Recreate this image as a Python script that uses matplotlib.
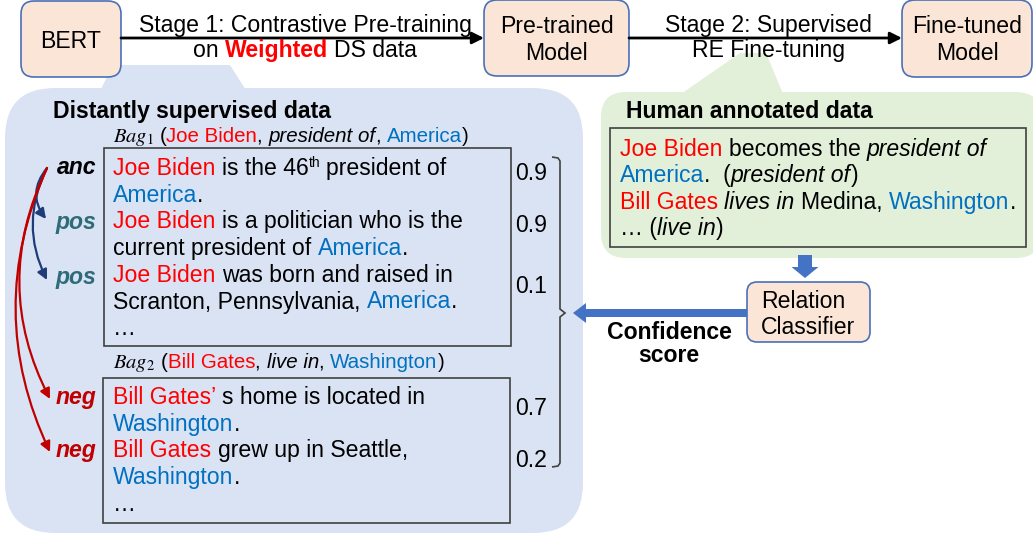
import matplotlib
matplotlib.use("Agg")
import matplotlib.pyplot as plt
from matplotlib.patches import FancyBboxPatch, Polygon, FancyArrow, FancyArrowPatch, Rectangle, PathPatch
from matplotlib.path import Path

plt.rcParams['font.family'] = ['Liberation Sans', 'DejaVu Sans']
plt.rcParams['mathtext.fontset'] = 'stix'

# ---- content ----
pipeline_boxes = ["BERT", "Pre-trained\nModel", "Fine-tuned\nModel"]
stage1_lines = [[("Stage 1: Contrastive Pre-training", "k")],
                [("on ", "k"), ("Weighted", "bold_red"), (" DS data", "k")]]
stage2_lines = [[("Stage 2: Supervised", "k")],
                [("RE Fine-tuning", "k")]]

ds_title = "Distantly supervised data"
bag1_name = r"$Bag_1$"
bag1_header = [("(", "k"), ("Joe Biden", "head"), (", ", "k"), ("president of", "ital"),
               (", ", "k"), ("America", "tail"), (")", "k")]
bag1_lines = [
    [("Joe Biden", "head"), (" is the 46", "k"), ("th", "sup"), (" president of", "k")],
    [("America", "tail"), (".", "k")],
    [("Joe Biden", "head"), (" is a politician who is the", "k")],
    [("current president of ", "k"), ("America", "tail"), (".", "k")],
    [("Joe Biden", "head"), (" was born and raised in", "k")],
    [("Scranton, Pennsylvania, ", "k"), ("America", "tail"), (".", "k")],
    [("\u2026", "k")],
]
bag2_name = r"$Bag_2$"
bag2_header = [("(", "k"), ("Bill Gates", "head"), (", ", "k"), ("live in", "ital"),
               (", ", "k"), ("Washington", "tail"), (")", "k")]
bag2_lines = [
    [("Bill Gates\u2019", "head"), (" s home is located in", "k")],
    [("Washington", "tail"), (".", "k")],
    [("Bill Gates", "head"), (" grew up in Seattle,", "k")],
    [("Washington", "tail"), (".", "k")],
    [("\u2026", "k")],
]
human_title = "Human annotated data"
human_lines = [
    [("Joe Biden", "head"), (" becomes the ", "k"), ("president of", "ital")],
    [("America", "tail"), (".  (", "k"), ("president of", "ital"), (")", "k")],
    [("Bill Gates", "head"), (" ", "k"), ("lives in", "ital"), (" Medina, ", "k"),
     ("Washington", "tail"), (".", "k")],
    [("\u2026 (", "k"), ("live in", "ital"), (")", "k")],
]
roles = ["anc", "pos", "pos", "neg", "neg"]
confidence = [0.9, 0.9, 0.1, 0.7, 0.2]
classifier_label = ["Relation", "Classifier"]
score_label = ["Confidence", "score"]

# ---- style ----
FS = 16.6
FS_BAG = 14.8
RED = "#FF0000"
BLUE = "#0070C0"
PEACH = "#FBE5D6"
EDGE = "#4A70B8"
ARROW_BLUE = "#4472C4"
STYLES = {
    "k": dict(color="black"),
    "head": dict(color=RED),
    "tail": dict(color=BLUE),
    "ital": dict(color="black", fontstyle="italic"),
    "bold_red": dict(color=RED, fontweight="bold"),
}
ROLE_COLORS = {"anc": "black", "pos": "#2E6B78", "neg": "#C00000"}

fig = plt.figure(figsize=(10.33, 5.35), dpi=100)
ax = fig.add_axes([0, 0, 1, 1])
ax.set_xlim(0, 1033)
ax.set_ylim(535, 0)
ax.axis("off")
renderer = fig.canvas.get_renderer()


def text_width(s, size, **kw):
    t = ax.text(0, 0, "|" + s + "|", fontsize=size, **kw)
    w = t.get_window_extent(renderer).width
    t.set_text("||")
    w -= t.get_window_extent(renderer).width
    t.remove()
    return w


def rich_width(segs, size):
    total = 0
    for s, k in segs:
        if k == "sup":
            total += text_width(s, size * 0.6)
        else:
            total += text_width(s, size, **STYLES[k])
    return total


def rich_line(x, y, segs, size, ha="left"):
    if ha == "center":
        x -= rich_width(segs, size) / 2
    for s, k in segs:
        if k == "sup":
            ax.text(x, y - 8, s, fontsize=size * 0.6, va="baseline", zorder=5)
            x += text_width(s, size * 0.6)
            continue
        st = STYLES[k]
        body = s.lstrip(" ")
        lead = s[:len(s) - len(body)]
        xd = x + (text_width(lead, size, **st) if lead else 0)
        if body:
            ax.text(xd, y, body, fontsize=size, va="baseline", ha="left", zorder=5, **st)
        x += text_width(s, size, **st)
    return x


# ---- callout backgrounds ----
ax.add_patch(FancyBboxPatch((5, 88), 578, 445, boxstyle="round,pad=0,rounding_size=50",
                            fc="#DAE3F3", ec="none", zorder=1))
ax.add_patch(Polygon([(98, 95), (249, 95), (230, 65), (113, 65)], closed=True,
                     fc="#DAE3F3", ec="none", zorder=1))
ax.add_patch(FancyBboxPatch((601, 92), 440, 166, boxstyle="round,pad=0,rounding_size=25",
                            fc="#E2F0D9", ec="none", zorder=1))
ax.add_patch(Polygon([(678, 96), (784, 96), (766, 53), (740, 53)], closed=True,
                     fc="#E2F0D9", ec="none", zorder=1))

# ---- pipeline ----
box_geom = [(21, 1, 100, 76), (484, 0, 145, 76), (902, 0, 130, 77)]
for (bx, by, bw, bh), label in zip(box_geom, pipeline_boxes):
    ax.add_patch(FancyBboxPatch((bx, by), bw, bh, boxstyle="round,pad=0,rounding_size=13",
                                fc=PEACH, ec=EDGE, lw=1.2, zorder=2))
    lines = label.split("\n")
    base = 48 if len(lines) == 1 else 33
    for i, ln in enumerate(lines):
        ax.text(bx + bw / 2, base + 27 * i, ln, fontsize=FS, ha="center", va="baseline", zorder=5)

for (x0, x1), stage, cx in [((121, 484), stage1_lines, 305), ((629, 902), stage2_lines, 768)]:
    ax.add_patch(FancyArrowPatch((x0, 38), (x1, 38), arrowstyle="-|>,head_length=0.5,head_width=0.25",
                                 mutation_scale=14, lw=2, color="black", shrinkA=0, shrinkB=0, zorder=3))
    for i, segs in enumerate(stage):
        rich_line(cx, 32 + 25 * i, segs, FS, ha="center")

# ---- distantly supervised data ----
ax.text(53, 118, ds_title, fontsize=FS, fontweight="bold", va="baseline", zorder=5)
for name, header, hy in [(bag1_name, bag1_header, 142), (bag2_name, bag2_header, 368)]:
    t = ax.text(113, hy, name, fontsize=FS_BAG, va="baseline", zorder=5)
    w = t.get_window_extent(renderer).width
    rich_line(113 + w + text_width(" ", FS_BAG), hy, header, FS_BAG)

ax.add_patch(Rectangle((104, 148), 407, 198, fc="none", ec="#404040", lw=1.2, zorder=3))
ax.add_patch(Rectangle((103, 378), 407, 145, fc="none", ec="#404040", lw=1.2, zorder=3))

bag1_base = [175 + 26.7 * i for i in range(len(bag1_lines))]
bag2_base = [404 + 26.7 * i for i in range(len(bag2_lines))]
for segs, y in zip(bag1_lines, bag1_base):
    rich_line(113, y, segs, FS)
for segs, y in zip(bag2_lines, bag2_base):
    rich_line(113, y, segs, FS)

role_base = [bag1_base[0] - 1, bag1_base[2] + 1, bag1_base[4] + 2, bag2_base[0], bag2_base[2]]
for role, y in zip(roles, role_base):
    ax.text(96, y, role, fontsize=FS, fontweight="bold", fontstyle="italic",
            color=ROLE_COLORS[role], ha="right", va="baseline", zorder=5)

score_base = [180, 232, 293, 415, 467]
for c, y in zip(confidence, score_base):
    ax.text(515, y, f"{c:.1f}", fontsize=FS, va="baseline", zorder=5)

bracket = [(552, 157), (558, 158), (560, 161), (560, 309), (565, 313), (560, 317),
           (560, 463), (558, 466), (552, 467)]
ax.add_patch(PathPatch(Path(bracket), fc="none", ec="#404040", lw=1.2, zorder=3))

# contrastive arrows
origin = (47, 168)
targets = [((46, 219), 0.39, "#1F3C7A"), ((47, 280), 0.25, "#1F3C7A"),
           ((50, 399), 0.25, "#C00000"), ((50, 452), 0.23, "#C00000")]
for end, rad, col in targets:
    ax.add_patch(FancyArrowPatch(origin, end, connectionstyle=f"arc3,rad={rad}",
                                 arrowstyle="-|>,head_length=0.6,head_width=0.3", mutation_scale=10,
                                 lw=1.6, color=col, shrinkA=0, shrinkB=0, zorder=4))

# ---- human annotated data ----
ax.text(626, 118, human_title, fontsize=FS, fontweight="bold", va="baseline", zorder=5)
ax.add_patch(Rectangle((610, 128), 416, 119, fc="none", ec="#404040", lw=1.2, zorder=3))
for i, segs in enumerate(human_lines):
    rich_line(620, 156 + 26.3 * i, segs, FS)

# ---- classifier ----
ax.add_patch(FancyArrow(805, 255, 0, 23, width=14, head_width=27, head_length=11,
                        length_includes_head=True, fc=ARROW_BLUE, ec="none", zorder=3))
ax.add_patch(FancyBboxPatch((747, 282), 123, 60, boxstyle="round,pad=0,rounding_size=10",
                            fc=PEACH, ec=EDGE, lw=1.2, zorder=2))
for i, ln in enumerate(classifier_label):
    ax.text(761, 308 + 26 * i, ln, fontsize=FS, va="baseline", zorder=5)

ax.add_patch(FancyArrow(747, 313, -174, 0, width=8, head_width=20, head_length=13,
                        length_includes_head=True, fc=ARROW_BLUE, ec="none", zorder=3))
for i, ln in enumerate(score_label):
    ax.text(669, 339 + 23 * i, ln, fontsize=FS, fontweight="bold", ha="center", va="baseline", zorder=5)

fig.savefig("out.png", dpi=100)
